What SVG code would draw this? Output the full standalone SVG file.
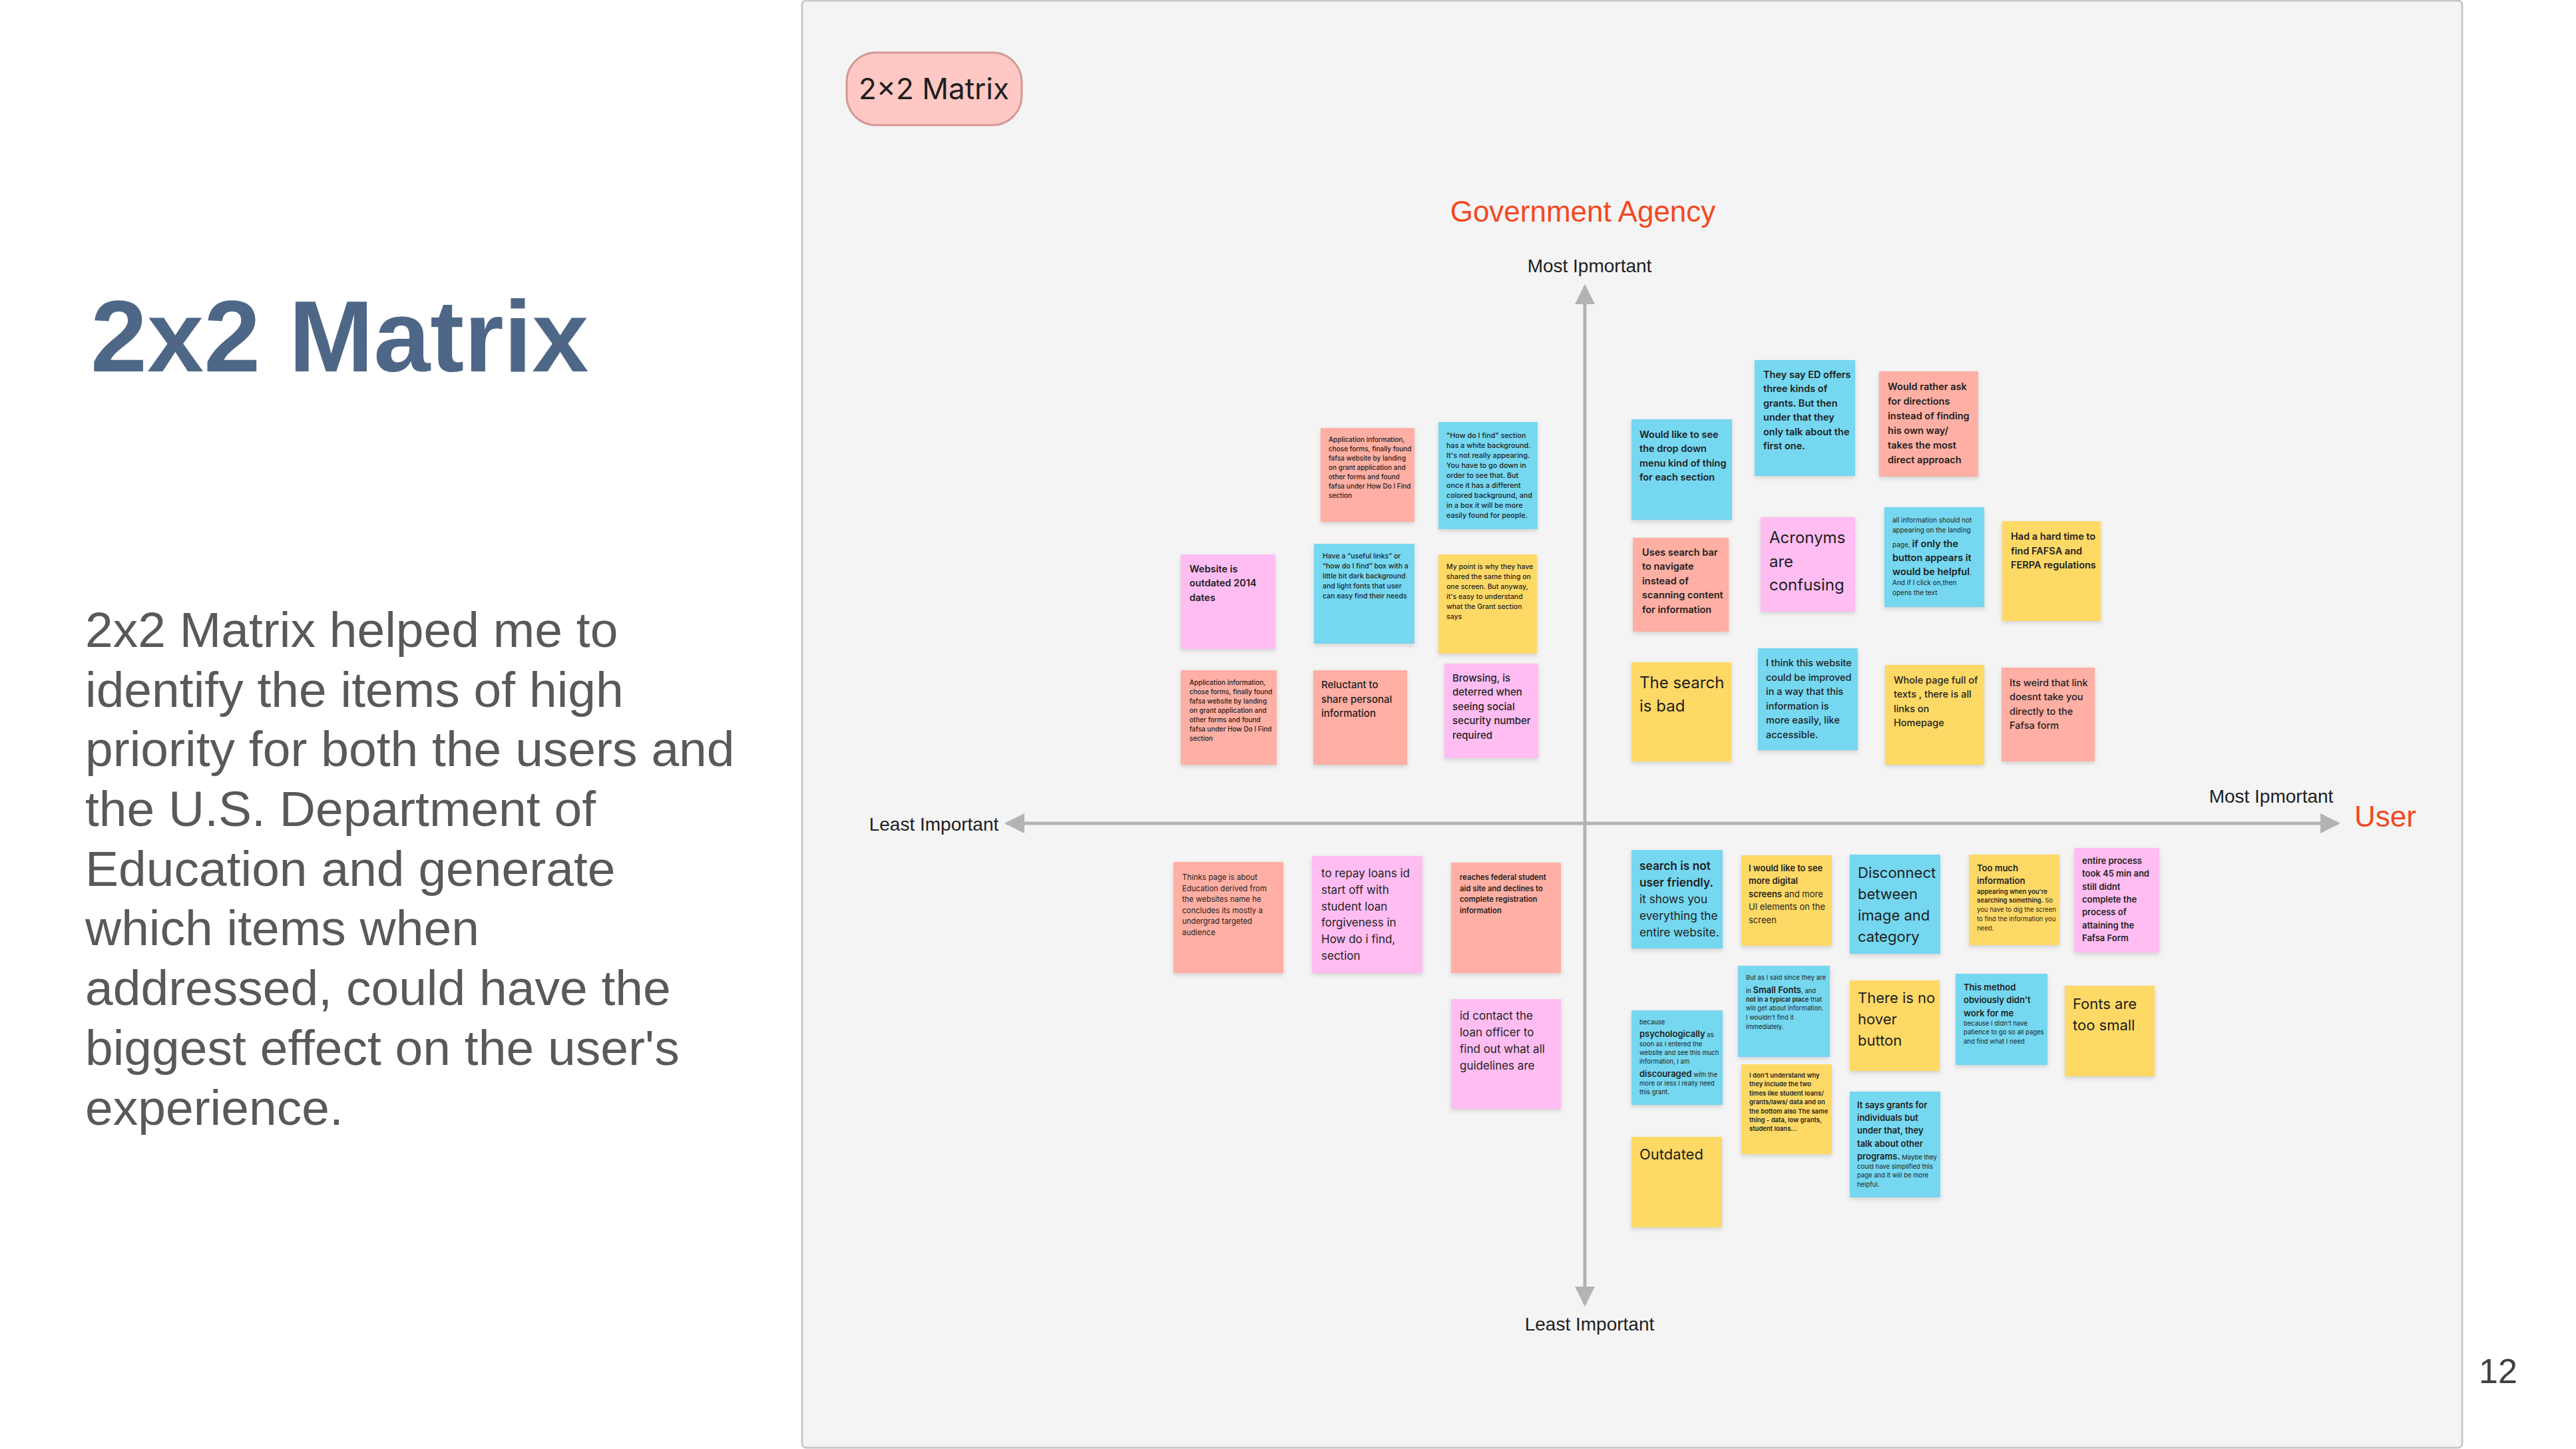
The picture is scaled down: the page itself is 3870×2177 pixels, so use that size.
<svg xmlns="http://www.w3.org/2000/svg" width="3870" height="2177" viewBox="0 0 3870 2177">
<defs>
<filter id="sh" x="-10%" y="-10%" width="120%" height="125%">
<feDropShadow dx="0" dy="3" stdDeviation="3" flood-color="#000" flood-opacity="0.14"/>
</filter>
<marker id="ah" viewBox="0 0 10 10" refX="9" refY="5" markerWidth="6" markerHeight="6" markerUnits="strokeWidth" orient="auto-start-reverse">
<path d="M0,0 L10,5 L0,10 z" fill="#b3b3b3"/>
</marker>
<style>
.red{fill:#FFAFA3}.pink{fill:#FFBDF2}.yel{fill:#FFD966}.teal{fill:#75D7F0}
.st{filter:url(#sh)}
.n{font-family:Inter,"Noto Sans","Liberation Sans",sans-serif;fill:#1e1e1e}
.w4{font-weight:400}.w5{font-weight:500}.w6{font-weight:600}
.ax{font-family:"Liberation Sans",Arial,sans-serif;fill:#1e1e1e;font-size:28px}
.hd{font-family:"Liberation Sans",Arial,sans-serif;fill:#f24822;font-size:44px}
.body{font-family:"Liberation Sans",Arial,sans-serif;fill:#595959;font-size:75px}
</style>
</defs>
<rect x="0" y="0" width="3870" height="2177" fill="#ffffff"/>

<g id="slide-title">
<text x="136" y="558" font-family="Liberation Sans, Arial, sans-serif" font-weight="700" font-size="153" fill="#4f6787">2x2 Matrix</text>
</g>
<g id="slide-body" class="body">
<text x="128" y="972">2x2 Matrix helped me to</text>
<text x="128" y="1062">identify the items of high</text>
<text x="128" y="1151">priority for both the users and</text>
<text x="128" y="1241">the U.S. Department of</text>
<text x="128" y="1331">Education and generate</text>
<text x="128" y="1420">which items when</text>
<text x="128" y="1510">addressed, could have the</text>
<text x="128" y="1600">biggest effect on the user's</text>
<text x="128" y="1690">experience.</text>
</g>
<g id="page-number">
<text x="3724" y="2078" font-family="Liberation Sans, Arial, sans-serif" font-size="52" fill="#404040">12</text>
</g>

<g id="board">
<rect x="1205" y="1" width="2494" height="2174" rx="6" fill="#f4f4f4" stroke="#c9c9c9" stroke-width="3"/>
</g>

<g id="pill">
<rect x="1272" y="79" width="263" height="109" rx="44" fill="#ffc8c4" stroke="#d39a97" stroke-width="3"/>
<text x="1403" y="149" text-anchor="middle" font-family="Inter, Liberation Sans, sans-serif" font-size="44" fill="#1e1e1e">2×2 Matrix</text>
</g>

<g id="connectors" stroke="#b3b3b3" stroke-width="5" fill="none">
<line x1="2381" y1="1960" x2="2381" y2="430" marker-start="url(#ah)" marker-end="url(#ah)"/>
<line x1="1512" y1="1237" x2="3513" y2="1237" marker-start="url(#ah)" marker-end="url(#ah)"/>
</g>

<g id="axis-labels">
<text class="hd" x="2378" y="333" text-anchor="middle">Government Agency</text>
<text class="ax" x="2388" y="409" text-anchor="middle">Most Ipmortant</text>
<text class="ax" x="2388" y="1999" text-anchor="middle">Least Important</text>
<text class="ax" x="1403" y="1248" text-anchor="middle">Least Important</text>
<text class="ax" x="3412" y="1206" text-anchor="middle">Most Ipmortant</text>
<text class="hd" x="3537" y="1242">User</text>
</g>

<!-- Top-left quadrant -->
<g id="n-app1">
<rect class="red st" x="1984" y="643" width="141" height="141"/>
<g class="n w5" font-size="10">
<text x="1996" y="664">Application information,</text>
<text x="1996" y="678">chose forms, finally found</text>
<text x="1996" y="692">fafsa website by landing</text>
<text x="1996" y="706">on grant application and</text>
<text x="1996" y="720">other forms and found</text>
<text x="1996" y="734">fafsa under How Do I Find</text>
<text x="1996" y="748">section</text>
</g>
</g>
<g id="n-howfind">
<rect class="teal st" x="2161" y="634" width="149" height="161"/>
<g class="n w5" font-size="10.8">
<text x="2173" y="658">"How do I find" section</text>
<text x="2173" y="673">has a white background.</text>
<text x="2173" y="688">It's not really appearing.</text>
<text x="2173" y="703">You have to go down in</text>
<text x="2173" y="718">order to see that. But</text>
<text x="2173" y="733">once it has a different</text>
<text x="2173" y="748">colored background, and</text>
<text x="2173" y="763">in a box it will be more</text>
<text x="2173" y="778">easily found for people.</text>
</g>
</g>
<g id="n-outdated2014">
<rect class="pink st" x="1774" y="833" width="142" height="142"/>
<g class="n w6" font-size="14.5">
<text x="1787" y="860">Website is</text>
<text x="1787" y="881">outdated 2014</text>
<text x="1787" y="903">dates</text>
</g>
</g>
<g id="n-useful">
<rect class="teal st" x="1974" y="817" width="151" height="150"/>
<g class="n w5" font-size="10.5">
<text x="1987" y="839">Have a “useful links” or</text>
<text x="1987" y="854">“how do I find” box with a</text>
<text x="1987" y="869">little bit dark background</text>
<text x="1987" y="884">and light fonts that user</text>
<text x="1987" y="899">can easy find their needs</text>
</g>
</g>
<g id="n-mypoint">
<rect class="yel st" x="2161" y="833" width="148" height="149"/>
<g class="n w5" font-size="10.5">
<text x="2173" y="855">My point is why they have</text>
<text x="2173" y="870">shared the same thing on</text>
<text x="2173" y="885">one screen. But anyway,</text>
<text x="2173" y="900">it's easy to understand</text>
<text x="2173" y="915">what the Grant section</text>
<text x="2173" y="930">says</text>
</g>
</g>
<g id="n-app2">
<rect class="red st" x="1774" y="1007" width="144" height="142"/>
<g class="n w5" font-size="10">
<text x="1787" y="1029">Application information,</text>
<text x="1787" y="1043">chose forms, finally found</text>
<text x="1787" y="1057">fafsa website by landing</text>
<text x="1787" y="1071">on grant application and</text>
<text x="1787" y="1085">other forms and found</text>
<text x="1787" y="1099">fafsa under How Do I Find</text>
<text x="1787" y="1113">section</text>
</g>
</g>
<g id="n-reluctant">
<rect class="red st" x="1973" y="1007" width="141" height="142"/>
<g class="n w5" font-size="15">
<text x="1985" y="1034">Reluctant to</text>
<text x="1985" y="1055.5">share personal</text>
<text x="1985" y="1077">information</text>
</g>
</g>
<g id="n-browsing">
<rect class="pink st" x="2170" y="997" width="141" height="142"/>
<g class="n w5" font-size="15">
<text x="2182" y="1024">Browsing, is</text>
<text x="2182" y="1045.4">deterred when</text>
<text x="2182" y="1066.8">seeing social</text>
<text x="2182" y="1088.2">security number</text>
<text x="2182" y="1109.6">required</text>
</g>
</g>

<!-- Top-right quadrant -->
<g id="n-dropdown">
<rect class="teal st" x="2451" y="630" width="151" height="151"/>
<g class="n w6" font-size="14.5">
<text x="2463" y="658">Would like to see</text>
<text x="2463" y="679.4">the drop down</text>
<text x="2463" y="700.8">menu kind of thing</text>
<text x="2463" y="722.2">for each section</text>
</g>
</g>
<g id="n-threegrants">
<rect class="teal st" x="2636" y="541" width="151" height="174"/>
<g class="n w6" font-size="14.5">
<text x="2649" y="568">They say ED offers</text>
<text x="2649" y="589.4">three kinds of</text>
<text x="2649" y="610.8">grants. But then</text>
<text x="2649" y="632.2">under that they</text>
<text x="2649" y="653.6">only talk about the</text>
<text x="2649" y="675">first one.</text>
</g>
</g>
<g id="n-rather">
<rect class="red st" x="2823" y="558" width="149" height="158"/>
<g class="n w6" font-size="14.5">
<text x="2836" y="586">Would rather ask</text>
<text x="2836" y="608">for directions</text>
<text x="2836" y="630">instead of finding</text>
<text x="2836" y="652">his own way/</text>
<text x="2836" y="674">takes the most</text>
<text x="2836" y="696">direct approach</text>
</g>
</g>
<g id="n-searchbar">
<rect class="red st" x="2453" y="808" width="144" height="141"/>
<g class="n w6" font-size="14.5">
<text x="2467" y="835">Uses search bar</text>
<text x="2467" y="856.4">to navigate</text>
<text x="2467" y="877.8">instead of</text>
<text x="2467" y="899.2">scanning content</text>
<text x="2467" y="920.6">for information</text>
</g>
</g>
<g id="n-acronyms">
<rect class="pink st" x="2645" y="777" width="142" height="142"/>
<g class="n w4" font-size="24">
<text x="2658" y="816">Acronyms</text>
<text x="2658" y="851.5">are</text>
<text x="2658" y="887">confusing</text>
</g>
</g>
<g id="n-allinfo">
<rect class="teal st" x="2831" y="762" width="150" height="150"/>
<g class="n w4" font-size="10">
<text x="2843" y="785">all information should not</text>
<text x="2843" y="800">appearing on the landing</text>
<text x="2843" y="822">page, <tspan class="w6" font-size="14.5">if only the</tspan></text>
<text x="2843" y="843" class="w6" font-size="14.5">button appears it</text>
<text x="2843" y="864"><tspan class="w6" font-size="14.5">would be helpful</tspan>.</text>
<text x="2843" y="879">And if I click on,then</text>
<text x="2843" y="894">opens the text</text>
</g>
</g>
<g id="n-hardtime">
<rect class="yel st" x="3008" y="783" width="148" height="150"/>
<g class="n w6" font-size="14.5">
<text x="3021" y="811">Had a hard time to</text>
<text x="3021" y="832.5">find FAFSA and</text>
<text x="3021" y="854">FERPA regulations</text>
</g>
</g>
<g id="n-searchbad">
<rect class="yel st" x="2451" y="995" width="150" height="149"/>
<g class="n w4" font-size="24">
<text x="2463" y="1034">The search</text>
<text x="2463" y="1069">is bad</text>
</g>
</g>
<g id="n-improved">
<rect class="teal st" x="2641" y="974" width="150" height="153"/>
<g class="n w5" font-size="14.5">
<text x="2653" y="1001">I think this website</text>
<text x="2653" y="1022.5">could be improved</text>
<text x="2653" y="1044">in a way that this</text>
<text x="2653" y="1065.5">information is</text>
<text x="2653" y="1087">more easily, like</text>
<text x="2653" y="1108.5">accessible.</text>
</g>
</g>
<g id="n-wholepage">
<rect class="yel st" x="2832" y="999" width="149" height="150"/>
<g class="n w5" font-size="14.5">
<text x="2845" y="1027">Whole page full of</text>
<text x="2845" y="1048.4">texts , there is all</text>
<text x="2845" y="1069.8">links on</text>
<text x="2845" y="1091.2">Homepage</text>
</g>
</g>
<g id="n-weird">
<rect class="red st" x="3007" y="1003" width="140" height="141"/>
<g class="n w5" font-size="14.5">
<text x="3019" y="1031">Its weird that link</text>
<text x="3019" y="1052.3">doesnt take you</text>
<text x="3019" y="1073.6">directly to the</text>
<text x="3019" y="1094.9">Fafsa form</text>
</g>
</g>

<!-- Bottom-left quadrant -->
<g id="n-thinks">
<rect class="red st" x="1763" y="1295" width="165" height="167"/>
<g class="n w4" font-size="11.5">
<text x="1776" y="1322">Thinks page is about</text>
<text x="1776" y="1338.6">Education derived from</text>
<text x="1776" y="1355.2">the websites name he</text>
<text x="1776" y="1371.8">concludes its mostly a</text>
<text x="1776" y="1388.4">undergrad targeted</text>
<text x="1776" y="1405">audience</text>
</g>
</g>
<g id="n-repay">
<rect class="pink st" x="1971" y="1286" width="166" height="176"/>
<g class="n w4" font-size="17">
<text x="1985" y="1318">to repay loans id</text>
<text x="1985" y="1342.8">start off with</text>
<text x="1985" y="1367.6">student loan</text>
<text x="1985" y="1392.4">forgiveness in</text>
<text x="1985" y="1417.2">How do i find,</text>
<text x="1985" y="1442">section</text>
</g>
</g>
<g id="n-reaches">
<rect class="red st" x="2180" y="1296" width="165" height="166"/>
<g class="n w6" font-size="11.3">
<text x="2193" y="1322">reaches federal student</text>
<text x="2193" y="1338.7">aid site and declines to</text>
<text x="2193" y="1355.4">complete registration</text>
<text x="2193" y="1372.1">information</text>
</g>
</g>
<g id="n-contact">
<rect class="pink st" x="2180" y="1501" width="165" height="165"/>
<g class="n w4" font-size="17">
<text x="2193" y="1532">id contact the</text>
<text x="2193" y="1556.9">loan officer to</text>
<text x="2193" y="1581.8">find out what all</text>
<text x="2193" y="1606.7">guidelines are</text>
</g>
</g>

<!-- Bottom-right quadrant -->
<g id="n-searchnot">
<rect class="teal st" x="2451" y="1277" width="137" height="148"/>
<g class="n w4" font-size="17.3">
<text x="2463" y="1307" class="w6">search is not</text>
<text x="2463" y="1332" class="w6">user friendly.</text>
<text x="2463" y="1357">it shows you</text>
<text x="2463" y="1382">everything the</text>
<text x="2463" y="1407">entire website.</text>
</g>
</g>
<g id="n-digital">
<rect class="yel st" x="2616" y="1285" width="136" height="136"/>
<g class="n w4" font-size="13">
<text x="2627" y="1309" class="w6">I would like to see</text>
<text x="2627" y="1328.4" class="w6">more digital</text>
<text x="2627" y="1347.8"><tspan class="w6">screens</tspan> and more</text>
<text x="2627" y="1367.2">UI elements on the</text>
<text x="2627" y="1386.6">screen</text>
</g>
</g>
<g id="n-disconnect">
<rect class="teal st" x="2779" y="1284" width="136" height="149"/>
<g class="n w4" font-size="22">
<text x="2791" y="1319">Disconnect</text>
<text x="2791" y="1350.9">between</text>
<text x="2791" y="1382.8">image and</text>
<text x="2791" y="1414.7">category</text>
</g>
</g>
<g id="n-toomuch">
<rect class="yel st" x="2958" y="1284" width="136" height="136"/>
<g class="n w4" font-size="9.5">
<text x="2970" y="1309" class="w6" font-size="13">Too much</text>
<text x="2970" y="1328" class="w6" font-size="13">information</text>
<text x="2970" y="1343" class="w6">appearing when you're</text>
<text x="2970" y="1356"><tspan class="w6">searching something.</tspan> So</text>
<text x="2970" y="1370">you have to dig the screen</text>
<text x="2970" y="1384">to find the information you</text>
<text x="2970" y="1398">need.</text>
</g>
</g>
<g id="n-entire">
<rect class="pink st" x="3116" y="1274" width="128" height="157"/>
<g class="n w6" font-size="13">
<text x="3128" y="1298">entire process</text>
<text x="3128" y="1317.3">took 45 min and</text>
<text x="3128" y="1336.6">still didnt</text>
<text x="3128" y="1355.9">complete the</text>
<text x="3128" y="1375.2">process of</text>
<text x="3128" y="1394.5">attaining the</text>
<text x="3128" y="1413.8">Fafsa Form</text>
</g>
</g>
<g id="n-smallfonts">
<rect class="teal st" x="2611" y="1451" width="138" height="137"/>
<g class="n w4" font-size="9.5">
<text x="2623" y="1472">But as I said since they are</text>
<text x="2623" y="1492">in <tspan class="w6" font-size="13">Small Fonts</tspan>, and</text>
<text x="2623" y="1505"><tspan class="w6">not in a typical place</tspan> that</text>
<text x="2623" y="1518">will get about information.</text>
<text x="2623" y="1532">I wouldn't find it</text>
<text x="2623" y="1546">immediately.</text>
</g>
</g>
<g id="n-hover">
<rect class="yel st" x="2779" y="1473" width="135" height="136"/>
<g class="n w4" font-size="22">
<text x="2791" y="1507">There is no</text>
<text x="2791" y="1539">hover</text>
<text x="2791" y="1571">button</text>
</g>
</g>
<g id="n-method">
<rect class="teal st" x="2938" y="1463" width="138" height="137"/>
<g class="n w4" font-size="9.5">
<text x="2950" y="1488" class="w6" font-size="13">This method</text>
<text x="2950" y="1507" class="w6" font-size="13">obviously didn't</text>
<text x="2950" y="1527" class="w6" font-size="13">work for me</text>
<text x="2950" y="1541">because I didn't have</text>
<text x="2950" y="1554">patience to go so all pages</text>
<text x="2950" y="1568">and find what I need</text>
</g>
</g>
<g id="n-fontssmall">
<rect class="yel st" x="3102" y="1481" width="135" height="136"/>
<g class="n w4" font-size="22">
<text x="3114" y="1516">Fonts are</text>
<text x="3114" y="1548">too small</text>
</g>
</g>
<g id="n-psych">
<rect class="teal st" x="2451" y="1518" width="137" height="142"/>
<g class="n w4" font-size="9.5">
<text x="2463" y="1539">because</text>
<text x="2463" y="1558"><tspan class="w6" font-size="13">psychologically</tspan> as</text>
<text x="2463" y="1572">soon as I entered the</text>
<text x="2463" y="1585">website and see this much</text>
<text x="2463" y="1598">information, I am</text>
<text x="2463" y="1618"><tspan class="w6" font-size="13">discouraged</tspan> with the</text>
<text x="2463" y="1631">more or less I really need</text>
<text x="2463" y="1644">this grant.</text>
</g>
</g>
<g id="n-dontunderstand">
<rect class="yel st" x="2616" y="1599" width="136" height="135"/>
<g class="n w6" font-size="9.5">
<text x="2628" y="1619">I don't understand why</text>
<text x="2628" y="1632.4">they include the two</text>
<text x="2628" y="1645.8">times like student loans/</text>
<text x="2628" y="1659.2">grants/laws/ data and on</text>
<text x="2628" y="1672.6">the bottom also The same</text>
<text x="2628" y="1686">thing - data, low grants,</text>
<text x="2628" y="1699.4">student loans...</text>
</g>
</g>
<g id="n-outdated">
<rect class="yel st" x="2451" y="1708" width="136" height="136"/>
<text class="n w4" x="2463" y="1742" font-size="22">Outdated</text>
</g>
<g id="n-grants">
<rect class="teal st" x="2779" y="1640" width="136" height="159"/>
<g class="n w4" font-size="9.5">
<text x="2790" y="1665" class="w6" font-size="13">It says grants for</text>
<text x="2790" y="1684" class="w6" font-size="13">individuals but</text>
<text x="2790" y="1703" class="w6" font-size="13">under that, they</text>
<text x="2790" y="1723" class="w6" font-size="13">talk about other</text>
<text x="2790" y="1742"><tspan class="w6" font-size="13">programs.</tspan> Maybe they</text>
<text x="2790" y="1756">could have simplified this</text>
<text x="2790" y="1769">page and it will be more</text>
<text x="2790" y="1783">helpful.</text>
</g>
</g>
</svg>
